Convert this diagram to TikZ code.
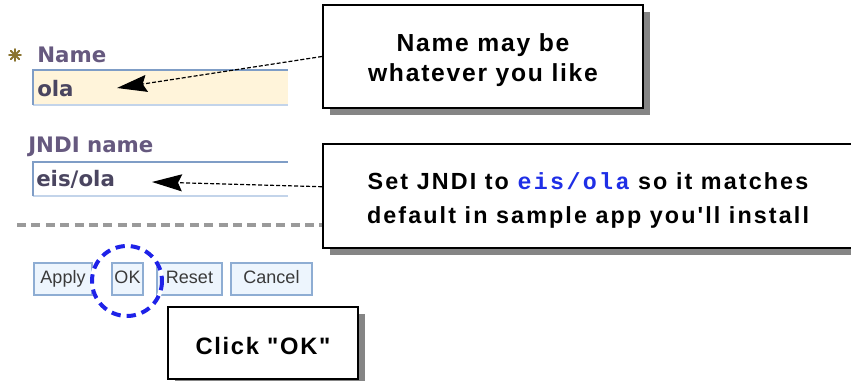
\documentclass[tikz,border=0pt]{standalone}
\usepackage{fontspec}
\setmainfont{Liberation Sans}
\newfontfamily\calloutfont[LetterSpace=7]{Liberation Sans}
\newfontfamily\calloutwide[LetterSpace=9]{Liberation Sans}
\newfontfamily\codefont[LetterSpace=10]{Liberation Mono}
\newfontfamily\uifont{DejaVu Sans}
\newfontfamily\buttonfont{Liberation Sans}
\usetikzlibrary{arrows.meta,shadows}

\definecolor{fieldcream}{HTML}{FFF4DA}
\definecolor{fieldedge}{HTML}{7F9DC6}
\definecolor{fieldlow}{HTML}{C3D4EA}
\definecolor{labelink}{HTML}{66597F}
\definecolor{valueink}{HTML}{4A4560}
\definecolor{starink}{HTML}{8A7430}
\definecolor{btnfill}{HTML}{EDF5FD}
\definecolor{btnedge}{HTML}{8EADD3}
\definecolor{btnink}{HTML}{3A3A3A}
\definecolor{ringblue}{HTML}{1E22E8}
\definecolor{codeblue}{HTML}{1F2FE6}
\definecolor{rulegray}{HTML}{9A9A9A}
\definecolor{shadowgray}{HTML}{858585}

\begin{document}
\begin{tikzpicture}[x=0.75pt,y=-0.75pt,
  callout/.style={draw=black,line width=1.4pt,fill=white,inner sep=0pt,
    drop shadow={shadow xshift={7*0.75pt},shadow yshift={-7*0.75pt},opacity=1,fill=shadowgray}},
  callouttext/.style={inner sep=0pt,align=center,yshift=-3pt},
  fieldbox/.style={inner sep=0pt,minimum width={255*0.75pt},minimum height={34*0.75pt}},
  uilabel/.style={anchor=base west,inner sep=0pt,text=labelink,font=\uifont\bfseries\fontsize{16pt}{18pt}\selectfont},
  uivalue/.style={anchor=base west,inner sep=0pt,text=valueink,font=\uifont\bfseries\fontsize{16pt}{18pt}\selectfont},
  button/.style={draw=btnedge,line width=1.1pt,fill=btnfill,inner sep=0pt,
    text height=9.7pt,text depth=2.4pt,
    minimum height={32*0.75pt},text=btnink,font=\buttonfont\fontsize{13.5pt}{15pt}\selectfont},
  pointer/.style={draw=black,line width=0.9pt,dash pattern=on 3pt off 1.5pt,
    -{Stealth[length={30*0.75pt},width={17*0.75pt},inset={4*0.75pt}]}},
]
\useasboundingbox (0,0) rectangle (851,381);

% required-field star
\begin{scope}[starink,line width=1.4pt,line cap=round]
  \foreach \a in {0,45,90,135}
    \draw (15,55) ++(\a:6) -- ++(\a+180:12);
  \fill (15,55) circle (2.4);
\end{scope}

% Name field
\node[uilabel] (namelabel) at (37,63) {Name};
\node[fieldbox,fill=fieldcream] (namefield) at (160.5,87.5) {};
\draw[fieldlow,line width=1.2pt] (namefield.south west) -- (namefield.south east);
\draw[fieldedge,line width=1.5pt] (namefield.south west) -- (namefield.north west) -- (namefield.north east);
\node[uivalue] (nameval) at (37,97) {ola};
\coordinate (nametip) at (117,88);

% JNDI name field
\node[uilabel] (jndilabel) at (28,153) {JNDI name};
\node[fieldbox,fill=white] (jndifield) at (160.5,179) {};
\draw[fieldlow,line width=1.2pt] (jndifield.south west) -- (jndifield.south east);
\draw[fieldedge,line width=1.5pt] (jndifield.south west) -- (jndifield.north west) -- (jndifield.north east);
\node[uivalue] (jndival) at (36,187) {eis/ola};
\coordinate (jnditip) at (152,182);

% buttons
\node[button,minimum width={58*0.75pt}] (apply) at (63,279) {Apply};
\node[button,minimum width={31*0.75pt}] (ok) at (127.5,279) {OK};
\node[button,minimum width={65*0.75pt}] (reset) at (189.5,279) {Reset};
\node[button,minimum width={81*0.75pt}] (cancel) at (271.5,279) {Cancel};

% callout boxes with drop shadows
\node[callout,minimum width={320*0.75pt},minimum height={103*0.75pt}] (b1) at (483,56.5) {};
\node[callouttext,font=\calloutfont\bfseries\fontsize{18.5pt}{22.5pt}\selectfont] (b1text) at (b1.center)
  {Name may be\\whatever you like};
\node[callout,minimum width={530*0.75pt},minimum height={104*0.75pt}] (b2) at (588,196) {};
\node[callouttext,font=\calloutwide\bfseries\fontsize{17.5pt}{25.5pt}\selectfont] (b2text) at (b2.center)
  {Set JNDI to {\codefont\color{codeblue}eis/ola} so it matches\\default in sample app you'll install};
\node[callout,minimum width={190*0.75pt},minimum height={72*0.75pt}] (b3) at (263,343) {};
\node[callouttext,yshift=1pt,font=\calloutfont\bfseries\fontsize{17.8pt}{20pt}\selectfont] (b3text) at (b3.center)
  {Click "OK"};

% section rule
\draw[rulegray,line width=2.3pt,dash pattern=on 6.8pt off 4pt] (17,225) -- (b2.west |- 0,225);

% pointers
\draw[pointer] (b1.west) -- (nametip);
\draw[pointer] (b2.178.7) -- (jnditip);

% highlight ring round OK
\node[circle,draw=white,line width=3pt,minimum size={70*0.75pt},inner sep=0pt] (ring) at (127,281) {};
\draw[ringblue,line width=3pt,dash pattern=on 7pt off 4.5pt] (ring.center) circle (35);
\end{tikzpicture}
\end{document}
